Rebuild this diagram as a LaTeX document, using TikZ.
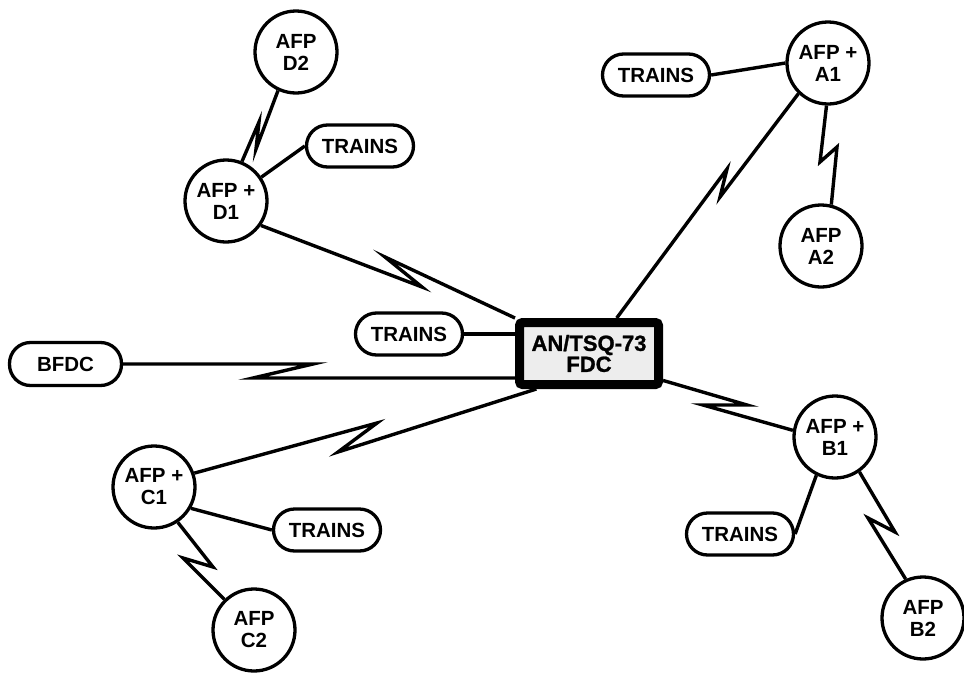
\documentclass[tikz,border=0pt]{standalone}
\usepackage{fontspec}
\setmainfont{Liberation Sans}
\newfontface\heavyface{Liberation Sans Bold}[FakeBold=1.2]
\begin{document}
\begin{tikzpicture}[x=1pt,y=-1pt,
  unit/.style={circle,draw,line width=3.3pt,minimum size=82pt,inner sep=0pt,
    align=center,font=\fontsize{20.5}{22}\selectfont\bfseries},
  tag/.style={rectangle,rounded corners=21pt,draw,line width=3.3pt,
    minimum width=107pt,minimum height=42pt,inner sep=0pt,
    font=\fontsize{20.5}{22}\selectfont\bfseries},
  hub/.style={rectangle,rounded corners=3pt,draw,line width=9pt,fill=black!7,
    minimum width=139pt,minimum height=62pt,inner sep=0pt,align=center,
    font=\fontsize{22}{21}\heavyface},
  link/.style={line width=3.4pt,line join=miter,miter limit=20}]
\useasboundingbox (0,0) rectangle (964,675);

% stations
\node[hub] (fdc) at (589,353.5) {AN/TSQ-73\\FDC};
\node[unit] (d2) at (296,52) {AFP\\D2};
\node[unit] (d1) at (226,201) {AFP +\\D1};
\node[unit] (a1) at (828,63) {AFP +\\A1};
\node[unit] (a2) at (821,246) {AFP\\A2};
\node[unit] (b1) at (835,437) {AFP +\\B1};
\node[unit] (b2) at (923,618) {AFP\\B2};
\node[unit] (c1) at (154,487) {AFP +\\C1};
\node[unit] (c2) at (254,630) {AFP\\C2};
\node[tag] (td) at (360,146) {TRAINS};
\node[tag] (ta) at (656,75) {TRAINS};
\node[tag] (tc) at (409,334) {TRAINS};
\node[tag] (tb) at (740,534) {TRAINS};
\node[tag] (tcc) at (327,530) {TRAINS};
\node[tag,minimum width=112pt,minimum height=43pt] (bfdc) at (65.5,364) {BFDC};

% bends of the radio links
\coordinate (dA) at (256,149); \coordinate (dB) at (259,122);
\coordinate (eA) at (422,287); \coordinate (eB) at (385,257);
\coordinate (fA) at (313,364); \coordinate (fB) at (253,378);
\coordinate (gA) at (727,169); \coordinate (gB) at (720,197);
\coordinate (hA) at (820,162); \coordinate (hB) at (837,147);
\coordinate (iA) at (747,405); \coordinate (iB) at (703,405);
\coordinate (jA) at (895,532); \coordinate (jB) at (868,518);
\coordinate (kA) at (377,423); \coordinate (kB) at (338,452);
\coordinate (lA) at (213,567); \coordinate (lB) at (183,558);

% radio links
\draw[link] (d2.-115) -- (dA) -- (dB) -- (d1.68);
\draw[link] (d1.-35) -- (eA) -- (eB) -- (fdc.north west);
\draw[link] (bfdc.east) -- (fA) -- (fB) -- (fB -| fdc.west);
\draw[link] (fdc.52) -- (gA) -- (gB) -- (a1.-134);
\draw[link] (a1.-92) -- (hA) -- (hB) -- (a2.76);
\draw[link] (fdc.-20) -- (iA) -- (iB) -- (b1.171);
\draw[link] (b1.-55) -- (jA) -- (jB) -- (b2.114);
\draw[link] (c1.19) -- (kA) -- (kB) -- (fdc.-146);
\draw[link] (c1.-56) -- (lA) -- (lB) -- (c2.134);

% wire links
\draw[link] (d1.34) -- (td.west);
\draw[link] (tc.east) -- (tc.east -| fdc.west);
\draw[link] (ta.east) -- (a1.west);
\draw[link] (b1.-116) -- (tb.east);
\draw[link] (c1.-30) -- (tcc.west);
\end{tikzpicture}
\end{document}
